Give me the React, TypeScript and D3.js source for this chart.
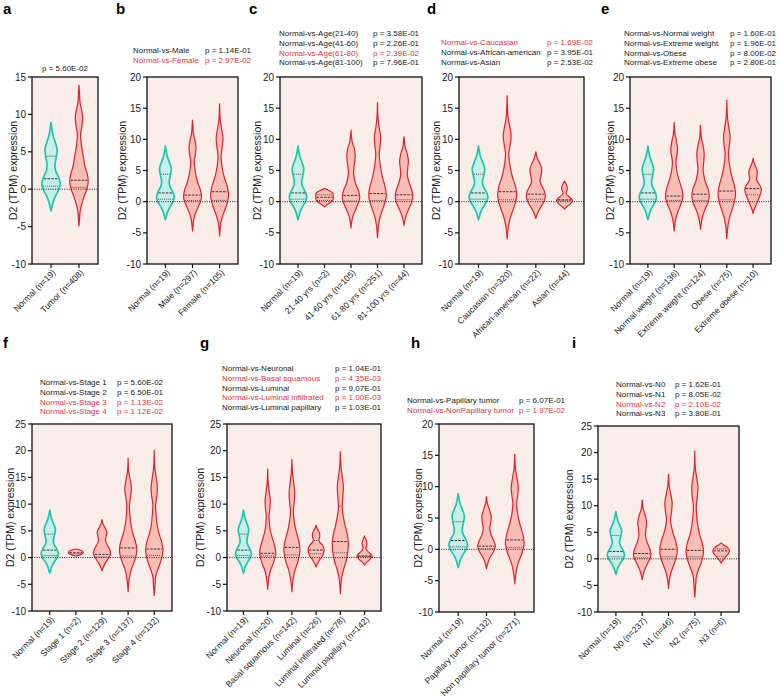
import React from "react";
import * as d3 from "d3";

type Prof = [number, number][];
type Quart = [number, number, number | null];

// ---------- shared normal violin ----------
const normalProfile: Prof = [[-2.9,0],[-2.4,0.1],[-1.8,0.2],[-1,0.45],[0,0.85],[0.7,1],[1.5,0.85],[2.5,0.5],[3.2,0.42],[4.2,0.55],[5.3,0.66],[6.3,0.45],[7.2,0.22],[8,0.1],[8.9,0]];
const normalQuart: Quart = [0.4, 1.4, 4.4];

// ---------- panel a ----------
const labelsA = ["Normal (n=19)", "Tumor (n=408)"];
const tumorA: Prof = [[-4.9,0],[-4,0.06],[-3,0.12],[-2,0.3],[-1,0.55],[0,0.85],[1,1],[2,0.9],[3,0.65],[4.5,0.45],[6,0.25],[7.3,0.17],[8.5,0.32],[9.5,0.4],[10.5,0.3],[11.5,0.12],[13,0.05],[13.9,0]];
const profilesA = [normalProfile, tumorA];
const quartA: Quart[] = [normalQuart, [0.25, 1.2, null]];
const compsA: [string, string, boolean][] = [["", "p = 5.60E-02", false]];

// ---------- panel b ----------
const labelsB = ["Normal (n=19)", "Male (n=297)", "Female (n=105)"];
const maleB: Prof = [[-4.7,0],[-3.8,0.06],[-2.8,0.15],[-1.8,0.35],[-0.8,0.65],[0.3,0.95],[1,1],[2,0.85],[3,0.6],[4.5,0.35],[5.8,0.22],[6.6,0.2],[7.8,0.35],[8.8,0.38],[9.8,0.28],[11,0.1],[12.2,0.04],[13.1,0]];
const femaleB: Prof = [[-5.5,0],[-4.5,0.05],[-3.5,0.12],[-2.5,0.3],[-1.3,0.6],[0,0.9],[1.2,1],[2.5,0.85],[3.8,0.55],[5,0.35],[6.5,0.2],[7.5,0.18],[8.8,0.3],[10.2,0.38],[11.5,0.25],[13,0.08],[14.5,0.03],[15.7,0]];
const profilesB = [normalProfile, maleB, femaleB];
const quartB: Quart[] = [normalQuart, [0.2, 1.05, null], [0.2, 1.6, null]];
const compsB: [string, string, boolean][] = [
  ["Normal-vs-Male", "p = 1.14E-01", false],
  ["Normal-vs-Female", "p = 2.97E-02", true],
];

// ---------- panel c ----------
const labelsC = ["Normal (n=19)", "21-40 yrs (n=2)", "41-60 yrs (n=105)", "61-80 yrs (n=251)", "81-100 yrs (n=44)"];
const age2140: Prof = [[-0.8,0],[-0.3,0.5],[0.2,0.95],[0.8,1],[1.4,0.95],[1.8,0.5],[2.1,0]];
const age4160: Prof = [[-4.2,0],[-3.2,0.08],[-2.2,0.25],[-1,0.6],[0,0.9],[0.8,1],[1.8,0.85],[3,0.5],[4.5,0.3],[5.5,0.35],[7.2,0.48],[8.5,0.38],[9.5,0.15],[10.5,0.05],[11.5,0]];
const age6180: Prof = [[-5.8,0],[-4.8,0.05],[-3.5,0.15],[-2.2,0.35],[-0.8,0.7],[0.4,0.95],[1.2,1],[2.5,0.85],[4,0.55],[5.5,0.35],[7,0.22],[7.8,0.2],[9.2,0.32],[10.4,0.36],[11.8,0.2],[13.5,0.06],[15.9,0]];
const age81100: Prof = [[-3.8,0],[-3,0.1],[-2,0.3],[-1,0.6],[0,0.9],[1,1],[2,0.85],[3.2,0.55],[4.3,0.38],[5.3,0.42],[6.6,0.5],[7.8,0.35],[8.8,0.12],[9.8,0.05],[10.4,0]];
const profilesC = [normalProfile, age2140, age4160, age6180, age81100];
const quartC: Quart[] = [normalQuart, [0.2, 0.7, 1.1], [0.1, 1.0, null], [0.2, 1.3, null], [0.3, 1.1, null]];
const compsC: [string, string, boolean][] = [
  ["Normal-vs-Age(21-40)", "p = 3.58E-01", false],
  ["Normal-vs-Age(41-60)", "p = 2.26E-01", false],
  ["Normal-vs-Age(61-80)", "p = 2.39E-02", true],
  ["Normal-vs-Age(81-100)", "p = 7.96E-01", false],
];

// ---------- panel d ----------
const labelsD = ["Normal (n=19)", "Caucasian (n=320)", "African-american (n=22)", "Asian (n=44)"];
const caucD: Prof = [[-6,0],[-5,0.05],[-3.8,0.15],[-2.5,0.35],[-1,0.7],[0.3,0.95],[1.3,1],[2.6,0.85],[4,0.55],[5.5,0.33],[7,0.2],[7.8,0.18],[9,0.3],[10.6,0.42],[12,0.28],[13.5,0.1],[15,0.04],[17,0]];
const afrD: Prof = [[-2.7,0],[-2.1,0.12],[-1.3,0.35],[-0.3,0.75],[0.7,1],[1.7,0.9],[2.6,0.6],[3.3,0.45],[4.2,0.55],[5.2,0.62],[6.2,0.4],[7,0.15],[8,0]];
const asianD: Prof = [[-1.2,0],[-0.8,0.25],[-0.3,0.65],[0.2,0.85],[0.7,0.55],[1.2,0.2],[1.5,0.16],[1.8,0.26],[2.2,0.3],[2.7,0.2],[3.3,0]];
const profilesD = [normalProfile, caucD, afrD, asianD];
const quartD: Quart[] = [normalQuart, [0.3, 1.6, null], [0.4, 1.2, null], [0.15, 0.3, null]];
const compsD: [string, string, boolean][] = [
  ["Normal-vs-Caucasian", "p = 1.69E-02", true],
  ["Normal-vs-African-american", "p = 3.95E-01", false],
  ["Normal-vs-Asian", "p = 2.53E-02", false],
];

// ---------- panel e ----------
const labelsE = ["Normal (n=19)", "Normal weight (n=136)", "Extreme weight (n=124)", "Obese (n=75)", "Extreme obese (n=10)"];
const nwE: Prof = [[-4.7,0],[-3.8,0.06],[-2.8,0.17],[-1.7,0.4],[-0.5,0.75],[0.5,0.97],[1.1,1],[2.2,0.85],[3.5,0.55],[4.8,0.32],[5.8,0.22],[6.6,0.22],[7.7,0.35],[8.6,0.38],[9.8,0.25],[11,0.08],[12.7,0]];
const ewE: Prof = [[-4.4,0],[-3.5,0.08],[-2.5,0.22],[-1.3,0.5],[-0.2,0.85],[0.9,1],[2,0.88],[3.2,0.55],[4.5,0.35],[5.3,0.3],[6.5,0.38],[7.8,0.42],[9,0.3],[10.2,0.1],[11.3,0.04],[12.3,0]];
const obE: Prof = [[-5.9,0],[-4.8,0.06],[-3.5,0.17],[-2.2,0.38],[-0.8,0.72],[0.5,0.95],[1.4,1],[2.7,0.85],[4.2,0.55],[5.7,0.33],[7.2,0.2],[7.8,0.19],[9,0.3],[10.4,0.38],[11.8,0.25],[13.5,0.08],[16.3,0]];
const eoE: Prof = [[-1.9,0],[-1.3,0.12],[-0.5,0.35],[0.5,0.65],[1.5,0.9],[2.1,0.95],[2.8,0.7],[3.5,0.4],[4.2,0.45],[4.9,0.48],[5.6,0.3],[6.3,0.1],[6.95,0]];
const profilesE = [normalProfile, nwE, ewE, obE, eoE];
const quartE: Quart[] = [normalQuart, [0.2, 0.9, null], [0.2, 1.2, null], [0.3, 1.7, null], [1.1, 2.1, null]];
const compsE: [string, string, boolean][] = [
  ["Normal-vs-Normal weight", "p = 1.60E-01", false],
  ["Normal-vs-Extreme weight", "p = 1.96E-01", false],
  ["Normal-vs-Obese", "p = 8.00E-02", false],
  ["Normal-vs-Extreme obese", "p = 2.80E-01", false],
];

// ---------- panel f ----------
const labelsF = ["Normal (n=19)", "Stage 1 (n=2)", "Stage 2 (n=129)", "Stage 3 (n=137)", "Stage 4 (n=132)"];
const st1F: Prof = [[0.3,0],[0.5,0.5],[0.8,0.85],[1.1,0.85],[1.4,0.5],[1.6,0]];
const st2F: Prof = [[-2.5,0],[-1.9,0.12],[-1,0.4],[0,0.8],[0.9,1],[1.8,0.8],[2.7,0.5],[3.3,0.4],[4.1,0.5],[4.8,0.55],[5.6,0.35],[6.3,0.12],[7.1,0]];
const st3F: Prof = [[-6.4,0],[-5.2,0.05],[-3.8,0.15],[-2.3,0.35],[-0.8,0.7],[0.6,0.95],[1.7,1],[3,0.85],[4.5,0.55],[6,0.35],[8,0.2],[10,0.16],[11.5,0.3],[12.9,0.38],[14.5,0.25],[16,0.08],[18.6,0]];
const st4F: Prof = [[-7.1,0],[-6,0.05],[-4.5,0.12],[-3.8,0.14],[-2.5,0.35],[-1,0.7],[0.5,0.95],[1.6,1],[3,0.85],[4.5,0.55],[6,0.35],[8,0.22],[10,0.16],[11.5,0.3],[13.2,0.36],[15,0.22],[17,0.06],[20.1,0]];
const profilesF = [normalProfile, st1F, st2F, st3F, st4F];
const quartF: Quart[] = [normalQuart, [0.7, 0.9, null], [0.1, 0.6, null], [0.3, 1.8, null], [0.4, 1.6, null]];
const compsF: [string, string, boolean][] = [
  ["Normal-vs-Stage 1", "p = 5.60E-02", false],
  ["Normal-vs-Stage 2", "p = 6.50E-01", false],
  ["Normal-vs-Stage 3", "p = 1.13E-02", true],
  ["Normal-vs-Stage 4", "p = 1.12E-02", true],
];

// ---------- panel g ----------
const labelsG = ["Normal (n=19)", "Neuronal (n=20)", "Basal squamous (n=142)", "Luminal (n=26)", "Luminal infiltrated (n=78)", "Luminal papillary (n=142)"];
const neuG: Prof = [[-5.9,0],[-4.8,0.06],[-3.5,0.18],[-2.2,0.4],[-1,0.72],[0.2,0.95],[1.1,1],[2.3,0.85],[3.8,0.55],[5.3,0.3],[6.8,0.2],[7.9,0.17],[9.3,0.28],[10.8,0.32],[12.3,0.2],[14,0.07],[16.6,0]];
const basG: Prof = [[-6.4,0],[-5.2,0.06],[-3.8,0.18],[-2.3,0.4],[-0.8,0.75],[0.8,0.97],[1.8,1],[3.2,0.85],[4.8,0.55],[6.5,0.32],[8,0.2],[8.8,0.18],[10.5,0.3],[12.2,0.35],[14,0.22],[16,0.07],[18.4,0]];
const lumG: Prof = [[-1.75,0],[-1.2,0.15],[-0.4,0.45],[0.5,0.85],[1.4,1],[2.3,0.8],[2.9,0.45],[3.3,0.35],[3.9,0.45],[4.4,0.45],[5,0.3],[5.5,0.12],[6.06,0]];
const linfG: Prof = [[-6.75,0],[-5.5,0.05],[-4.5,0.1],[-3.5,0.2],[-2,0.45],[-0.5,0.75],[1.2,0.95],[2.9,1],[4.5,0.85],[6,0.6],[7.5,0.4],[9,0.25],[10,0.24],[11.5,0.32],[13.3,0.38],[15,0.25],[17,0.08],[19.8,0]];
const lpapG: Prof = [[-1.4,0],[-0.9,0.25],[-0.3,0.7],[0.3,0.95],[0.9,0.6],[1.5,0.22],[1.9,0.18],[2.3,0.28],[2.7,0.3],[3.2,0.22],[4.06,0]];
const profilesG = [normalProfile, neuG, basG, lumG, linfG, lpapG];
const quartG: Quart[] = [normalQuart, [0.3, 0.8, null], [0.5, 1.9, null], [0.7, 1.4, 3.2], [0.9, 3.0, 9.6], [0.2, 0.3, null]];
const compsG: [string, string, boolean][] = [
  ["Normal-vs-Neuronal", "p = 1.04E-01", false],
  ["Normal-vs-Basal squamous", "p = 4.35E-03", true],
  ["Normal-vs-Luminal", "p = 9,07E-01", false],
  ["Normal-vs-Luminal infiltrated", "p = 1.00E-03", true],
  ["Normal-vs-Luminal papillary", "p = 1.03E-01", false],
];

// ---------- panel h ----------
const labelsH = ["Normal (n=19)", "Papillary tumor (n=132)", "Non papillary tumor (n=271)"];
const papH: Prof = [[-3.1,0],[-2.4,0.1],[-1.4,0.35],[-0.4,0.75],[0.5,0.95],[1.3,0.8],[2.3,0.5],[3.3,0.35],[4.3,0.45],[5.3,0.5],[6.3,0.32],[7.3,0.1],[8.4,0]];
const nonpapH: Prof = [[-5.5,0],[-4.5,0.06],[-3.3,0.18],[-2,0.4],[-0.7,0.75],[0.5,0.97],[1.2,1],[2.5,0.85],[4,0.55],[5.5,0.33],[6.8,0.22],[7.4,0.2],[8.7,0.32],[10,0.38],[11.3,0.25],[12.8,0.08],[15.2,0]];
const profilesH = [normalProfile, papH, nonpapH];
const quartH: Quart[] = [normalQuart, [0.1, 0.5, null], [0.3, 1.5, null]];
const compsH: [string, string, boolean][] = [
  ["Normal-vs-Papillary tumor", "p = 6.07E-01", false],
  ["Normal-vs-NonPapillary tumor", "p = 1.97E-02", true],
];

// ---------- panel i ----------
const labelsI = ["Normal (n=19)", "N0 (n=237)", "N1 (n=46)", "N2 (n=75)", "N3 (n=6)"];
const n0I: Prof = [[-3.9,0],[-3.1,0.1],[-2,0.3],[-0.8,0.65],[0.3,0.95],[1,1],[2,0.85],[3.2,0.55],[4.4,0.38],[5.5,0.42],[7,0.5],[8.2,0.35],[9.3,0.12],[11.06,0]];
const n1I: Prof = [[-5.5,0],[-4.5,0.06],[-3.3,0.18],[-2,0.4],[-0.5,0.75],[0.9,0.97],[1.9,1],[3.2,0.85],[4.7,0.55],[6.2,0.32],[7.5,0.24],[9,0.36],[10.6,0.42],[12,0.28],[13.5,0.1],[15.9,0]];
const n2I: Prof = [[-7.2,0],[-6,0.05],[-4.5,0.12],[-3.5,0.16],[-2.2,0.38],[-0.8,0.72],[0.6,0.95],[1.6,1],[3,0.85],[4.6,0.55],[6.2,0.35],[8,0.22],[10,0.17],[11.8,0.3],[13.5,0.36],[15.2,0.22],[17.2,0.06],[20.3,0]];
const n3I: Prof = [[-0.8,0],[-0.3,0.2],[0.4,0.55],[1,0.85],[1.6,0.95],[2.2,0.7],[2.6,0.3],[3,0]];
const profilesI = [normalProfile, n0I, n1I, n2I, n3I];
const quartI: Quart[] = [normalQuart, [0.2, 1.0, null], [0.4, 1.8, null], [0.4, 1.6, null], [0.5, 1.5, 1.9]];
const compsI: [string, string, boolean][] = [
  ["Normal-vs-N0", "p = 1.62E-01", false],
  ["Normal-vs-N1", "p = 8.05E-02", false],
  ["Normal-vs-N2", "p = 2.10E-02", true],
  ["Normal-vs-N3", "p = 3.80E-01", false],
];

// ---------- layout (positions only) ----------
const panels = [
  { letter: "a", lx: 3, ly: 14, x0: 32, x1: 98, y0: 77, y1: 264, ymax: 15, titleX: 13, c1: 0, c2: 65, ty: 71, center: true, labels: labelsA, profiles: profilesA, quart: quartA, comps: compsA },
  { letter: "b", lx: 116, ly: 14, x0: 147, x1: 238, y0: 77, y1: 264, ymax: 20, titleX: 122, c1: 133, c2: 205, ty: 53, labels: labelsB, profiles: profilesB, quart: quartB, comps: compsB },
  { letter: "c", lx: 249, ly: 14, x0: 280, x1: 422, y0: 77, y1: 264, ymax: 20, titleX: 257, c1: 279, c2: 373, ty: 36, labels: labelsC, profiles: profilesC, quart: quartC, comps: compsC },
  { letter: "d", lx: 427, ly: 14, x0: 459, x1: 584, y0: 77, y1: 264, ymax: 20, titleX: 436, c1: 441, c2: 547, ty: 45, labels: labelsD, profiles: profilesD, quart: quartD, comps: compsD },
  { letter: "e", lx: 601, ly: 14, x0: 630, x1: 771, y0: 77, y1: 264, ymax: 20, titleX: 610, c1: 624, c2: 730, ty: 36, labels: labelsE, profiles: profilesE, quart: quartE, comps: compsE },
  { letter: "f", lx: 3, ly: 348, x0: 32, x1: 172, y0: 424, y1: 611, ymax: 25, titleX: 10, c1: 40, c2: 117, ty: 385, labels: labelsF, profiles: profilesF, quart: quartF, comps: compsF },
  { letter: "g", lx: 200, ly: 348, x0: 227, x1: 381, y0: 424, y1: 611, ymax: 25, titleX: 200, c1: 222, c2: 335, ty: 371, labels: labelsG, profiles: profilesG, quart: quartG, comps: compsG },
  { letter: "h", lx: 411, ly: 348, x0: 439, x1: 534, y0: 424, y1: 612, ymax: 20, titleX: 418, c1: 407, c2: 519, ty: 403, labels: labelsH, profiles: profilesH, quart: quartH, comps: compsH },
  { letter: "i", lx: 572, ly: 348, x0: 598, x1: 739, y0: 426, y1: 612, ymax: 25, titleX: 569, c1: 616, c2: 675, ty: 387, labels: labelsI, profiles: profilesI, quart: quartI, comps: compsI },
];

const FONT = "Arial, 'Liberation Sans', Helvetica, sans-serif";
const TEAL = "#1FC6AF";
const TEAL_FILL = "#BDEEE6";
const RED = "#E3202C";
const RED_FILL = "#F8B5AB";
const BG = "#F9EDEA";
const RED_TEXT = "#E8323D";

function widthAt(p: Prof, v: number): number {
  if (v <= p[0][0] || v >= p[p.length - 1][0]) return 0;
  for (let i = 1; i < p.length; i++) {
    if (v <= p[i][0]) {
      const t = (v - p[i - 1][0]) / (p[i][0] - p[i - 1][0]);
      return p[i - 1][1] + t * (p[i][1] - p[i - 1][1]);
    }
  }
  return 0;
}

function Panel({ cfg }: { cfg: any }) {
  const y = d3.scaleLinear().domain([-10, cfg.ymax]).range([cfg.y1, cfg.y0]);
  const x = d3.scalePoint<string>().domain(cfg.labels).range([cfg.x0, cfg.x1]).padding(0.68);
  const step = x.step();
  const hw = step * 0.33;
  const ticks = d3.range(-10, cfg.ymax + 0.1, 5);
  const lineH = 9.8;
  return (
    <g>
      <text x={cfg.lx} y={cfg.ly} fontSize={15} fontWeight="bold" fontFamily={FONT}>{cfg.letter}</text>
      {cfg.comps.map((c: [string, string, boolean], i: number) => (
        <g key={i} fill={c[2] ? RED_TEXT : "#222"} fontSize={8} fontFamily={FONT}>
          {cfg.center ? (
            <text x={cfg.c2} y={cfg.ty + i * lineH} textAnchor="middle">{c[1]}</text>
          ) : (
            <>
              <text x={cfg.c1} y={cfg.ty + i * lineH}>{c[0]}</text>
              <text x={cfg.c2} y={cfg.ty + i * lineH}>{c[1]}</text>
            </>
          )}
        </g>
      ))}
      <rect x={cfg.x0} y={cfg.y0} width={cfg.x1 - cfg.x0} height={cfg.y1 - cfg.y0} fill={BG} />
      {cfg.profiles.map((p: Prof, i: number) => {
        const cx = x(cfg.labels[i])!;
        const isN = i === 0;
        const area = d3.area<[number, number]>()
          .y(d => y(d[0]))
          .x0(d => cx - hw * d[1])
          .x1(d => cx + hw * d[1])
          .curve(d3.curveCatmullRom.alpha(0.5));
        const q = cfg.quart[i] as Quart;
        return (
          <g key={i}>
            <path d={area(p) || ""} fill={isN ? TEAL_FILL : RED_FILL} fillOpacity={0.85} stroke={isN ? TEAL : RED} strokeWidth={isN ? 1.7 : 1.2} strokeLinejoin="round" />
            {q.map((v, k) => {
              if (v === null) return null;
              const w = hw * widthAt(p, v) - 0.8;
              if (w <= 0) return null;
              return (
                <line key={k} x1={cx - w} x2={cx + w} y1={y(v)} y2={y(v)} stroke={k === 1 ? "#333" : "#555"} strokeWidth={1} strokeDasharray={k === 1 ? "2.5,1.2" : "1,1"} />
              );
            })}
          </g>
        );
      })}
      <line x1={cfg.x0} x2={cfg.x1} y1={y(0)} y2={y(0)} stroke="#222" strokeWidth={1} strokeDasharray="1,1.3" />
      <rect x={cfg.x0} y={cfg.y0} width={cfg.x1 - cfg.x0} height={cfg.y1 - cfg.y0} fill="none" stroke="#111" strokeWidth={1.3} />
      {ticks.map(t => (
        <g key={t}>
          <line x1={cfg.x0 - 4} x2={cfg.x0} y1={y(t)} y2={y(t)} stroke="#111" strokeWidth={1.2} />
          <text x={cfg.x0 - 6} y={y(t)} dy="0.35em" textAnchor="end" fontSize={10} fontFamily={FONT} fill="#222">{t}</text>
        </g>
      ))}
      {cfg.labels.map((l: string) => {
        const cx = x(l)!;
        return (
          <g key={l}>
            <line x1={cx} x2={cx} y1={cfg.y1} y2={cfg.y1 + 4} stroke="#111" strokeWidth={1.2} />
            <text transform={`translate(${cx + 3},${cfg.y1 + 7}) rotate(-45)`} textAnchor="end" dy="0.35em" fontSize={8.6} fontFamily={FONT} fill="#222">{l}</text>
          </g>
        );
      })}
      <text transform={`translate(${cfg.titleX + 4},${(cfg.y0 + cfg.y1) / 2}) rotate(-90)`} textAnchor="middle" fontSize={10.5} fontFamily={FONT} fill="#222">D2 (TPM) expression</text>
    </g>
  );
}

export default function App() {
  return (
    <svg width={779} height={698} style={{ position: "absolute", left: 0, top: 0, background: "#fff" }}>
      {panels.map(p => <Panel key={p.letter} cfg={p} />)}
    </svg>
  );
}
